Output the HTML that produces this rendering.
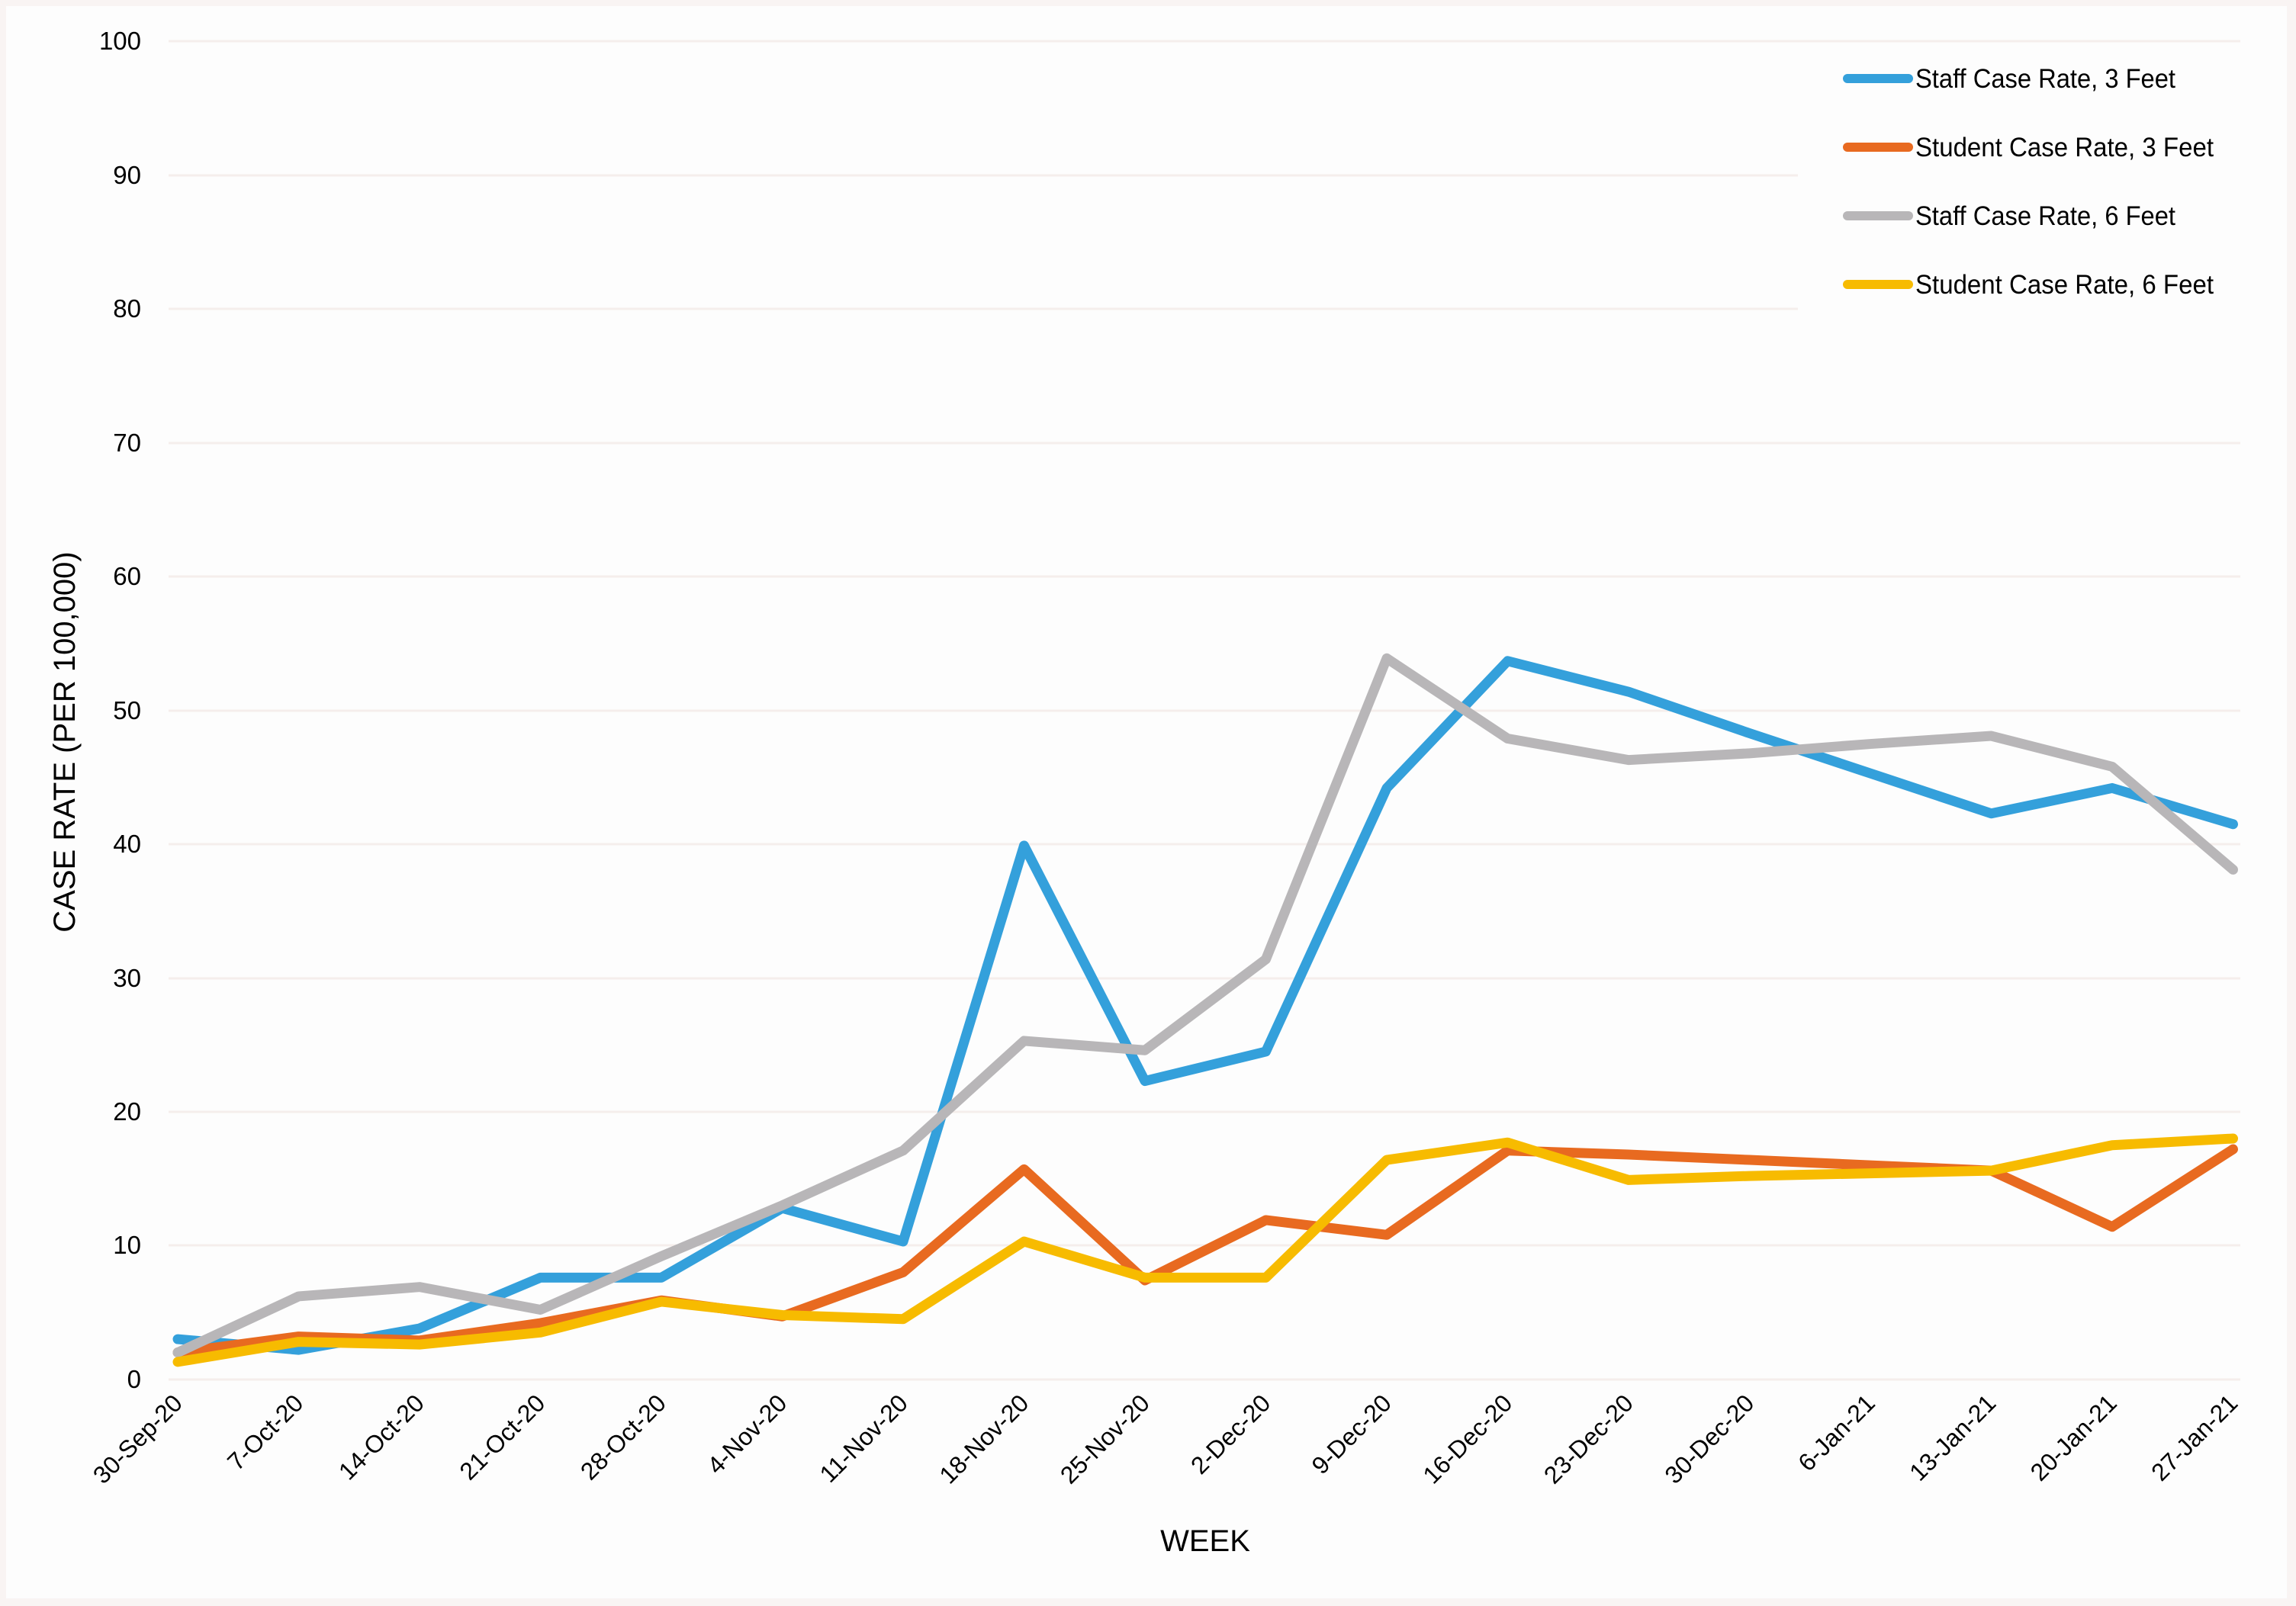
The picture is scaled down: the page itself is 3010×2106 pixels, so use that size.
<!DOCTYPE html>
<html><head><meta charset="utf-8"><style>
html,body{margin:0;padding:0;background:#fff}
svg{display:block}
text{font-family:"Liberation Sans",sans-serif;fill:#000}
</style></head><body>
<svg width="3010" height="2106" viewBox="0 0 3010 2106">
<rect x="0" y="0" width="3010" height="2106" fill="#f9f4f3"/>
<rect x="8" y="8" width="2990" height="2088" fill="#fdfdfd"/>
<g stroke="#f5eeec" stroke-width="3">
<line x1="221" y1="1809" x2="2937" y2="1809"/>
<line x1="221" y1="1633" x2="2937" y2="1633"/>
<line x1="221" y1="1458" x2="2937" y2="1458"/>
<line x1="221" y1="1283" x2="2937" y2="1283"/>
<line x1="221" y1="1107" x2="2937" y2="1107"/>
<line x1="221" y1="932" x2="2937" y2="932"/>
<line x1="221" y1="756" x2="2937" y2="756"/>
<line x1="221" y1="581" x2="2937" y2="581"/>
<line x1="221" y1="405" x2="2357" y2="405"/>
<line x1="221" y1="230" x2="2357" y2="230"/>
<line x1="221" y1="54" x2="2937" y2="54"/>
</g>
<g font-size="33" text-anchor="end">
<text x="185" y="1820">0</text>
<text x="185" y="1644">10</text>
<text x="185" y="1469">20</text>
<text x="185" y="1294">30</text>
<text x="185" y="1118">40</text>
<text x="185" y="943">50</text>
<text x="185" y="767">60</text>
<text x="185" y="592">70</text>
<text x="185" y="416">80</text>
<text x="185" y="241">90</text>
<text x="185" y="65">100</text>
</g>
<g font-size="32" text-anchor="end">
<text transform="translate(241,1842) rotate(-45)">30-Sep-20</text>
<text transform="translate(399.5,1842) rotate(-45)">7-Oct-20</text>
<text transform="translate(558,1842) rotate(-45)">14-Oct-20</text>
<text transform="translate(716.5,1842) rotate(-45)">21-Oct-20</text>
<text transform="translate(875,1842) rotate(-45)">28-Oct-20</text>
<text transform="translate(1033.5,1842) rotate(-45)">4-Nov-20</text>
<text transform="translate(1192,1842) rotate(-45)">11-Nov-20</text>
<text transform="translate(1350.5,1842) rotate(-45)">18-Nov-20</text>
<text transform="translate(1509,1842) rotate(-45)">25-Nov-20</text>
<text transform="translate(1667.5,1842) rotate(-45)">2-Dec-20</text>
<text transform="translate(1826,1842) rotate(-45)">9-Dec-20</text>
<text transform="translate(1984.5,1842) rotate(-45)">16-Dec-20</text>
<text transform="translate(2143,1842) rotate(-45)">23-Dec-20</text>
<text transform="translate(2301.5,1842) rotate(-45)">30-Dec-20</text>
<text transform="translate(2460,1842) rotate(-45)">6-Jan-21</text>
<text transform="translate(2618.5,1842) rotate(-45)">13-Jan-21</text>
<text transform="translate(2777,1842) rotate(-45)">20-Jan-21</text>
<text transform="translate(2935.5,1842) rotate(-45)">27-Jan-21</text>
</g>
<text x="1580" y="2034" font-size="40" text-anchor="middle">WEEK</text>
<text transform="translate(98,973) rotate(-90)" font-size="40" text-anchor="middle">CASE RATE (PER 100,000)</text>
<g transform="translate(233,1808.7) scale(158.5,-17.54)" fill="none" stroke-width="13" stroke-linejoin="round" stroke-linecap="round">
<polyline vector-effect="non-scaling-stroke" stroke="#34a0db" points="0,3.0 1,2.2 2,3.8 3,7.6 4,7.6 5,12.8 6,10.3 7,39.9 8,22.3 9,24.5 10,44.2 11,53.7 12,51.4 13,48.3 14,45.3 15,42.3 16,44.2 17,41.5"/>
<polyline vector-effect="non-scaling-stroke" stroke="#e86a20" points="0,2.0 1,3.2 2,2.9 3,4.2 4,5.9 5,4.7 6,8.0 7,15.7 8,7.4 9,11.9 10,10.8 11,17.1 12,16.8 13,16.4 14,16.0 15,15.6 16,11.4 17,17.2"/>
<polyline vector-effect="non-scaling-stroke" stroke="#b8b6b8" points="0,2.0 1,6.2 2,6.9 3,5.2 4,9.2 5,13.0 6,17.1 7,25.3 8,24.6 9,31.4 10,53.9 11,47.9 12,46.3 13,46.8 14,47.5 15,48.1 16,45.8 17,38.1"/>
<polyline vector-effect="non-scaling-stroke" stroke="#f7bb00" points="0,1.3 1,2.8 2,2.6 3,3.5 4,5.8 5,4.8 6,4.5 7,10.3 8,7.6 9,7.6 10,16.4 11,17.7 12,14.9 13,15.2 14,15.4 15,15.6 16,17.5 17,18.0"/>
</g>
<g stroke-width="12" stroke-linecap="round">
<line x1="2422" y1="103" x2="2502" y2="103" stroke="#34a0db"/>
<line x1="2422" y1="193" x2="2502" y2="193" stroke="#e86a20"/>
<line x1="2422" y1="283" x2="2502" y2="283" stroke="#b8b6b8"/>
<line x1="2422" y1="373" x2="2502" y2="373" stroke="#f7bb00"/>
</g>
<g font-size="35">
<text x="2511" y="115" textLength="341" lengthAdjust="spacingAndGlyphs">Staff Case Rate, 3 Feet</text>
<text x="2511" y="205" textLength="391" lengthAdjust="spacingAndGlyphs">Student Case Rate, 3 Feet</text>
<text x="2511" y="295" textLength="341" lengthAdjust="spacingAndGlyphs">Staff Case Rate, 6 Feet</text>
<text x="2511" y="385" textLength="391" lengthAdjust="spacingAndGlyphs">Student Case Rate, 6 Feet</text>
</g>
</svg>
</body></html>
